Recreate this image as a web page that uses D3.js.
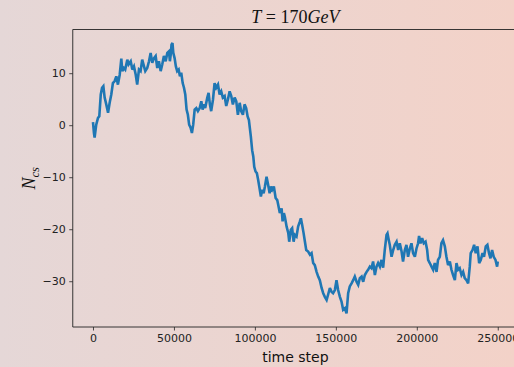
<!DOCTYPE html>
<html>
<head>
<meta charset="utf-8">
<script src="https://cdn.jsdelivr.net/npm/d3@7"></script>
<style>
  html, body { margin: 0; padding: 0; background: #e9d6d3; }
  svg { display: block; }
  .tick text { font-family: "DejaVu Sans", sans-serif; font-size: 11px; fill: #222; }
</style>
</head>
<body>
<svg id="chart" width="514" height="367"></svg>
<script>
// Chern-Simons number N_cs sampled along the simulation (time step, value)
const timeSteps = [
  0, 600, 1000, 2000, 3100, 3900, 4800, 5600, 6400, 7200, 8200, 9300, 10300, 11300, 12300, 13400, 14400, 15400, 16500, 17500,
  18100, 19100, 19900, 21200, 22000, 23300, 24300, 25300, 26400, 27300, 28400, 29400, 30400, 31500, 32300, 33500, 34600, 35600, 36600, 37700,
  38700, 39700, 40700, 41800, 42800, 43800, 44900, 45900, 46900, 47500, 48000, 48500, 49100, 49600, 50400, 51200, 52000, 52900, 53700, 54500,
  55400, 56200, 57000, 57800, 58600, 59400, 60300, 61100, 61900, 62800, 63800, 64800, 65900, 66900, 67700, 68500, 69300, 70600, 71400, 72200,
  73000, 74100, 75100, 76100, 77200, 78200, 79200, 80200, 81300, 82300, 83300, 84400, 85400, 86400, 87500, 88500, 89500, 90600, 91500, 92600,
  93600, 94600, 95500, 96300, 96900, 97500, 98300, 99000, 99600, 100400, 101200, 102000, 102700, 103700, 104500, 105400, 106200, 107200, 108200, 109100,
  109900, 110700, 111700, 112800, 113800, 114400, 115400, 116500, 117100, 117900, 118500, 119600, 120600, 121200, 122200, 123000, 123900, 124700, 125700, 126700,
  127800, 128400, 129200, 130100, 130900, 131700, 132900, 134000, 135000, 136000, 137000, 138100, 139100, 140100, 141200, 142200, 143200, 144300, 145200, 146300,
  147300, 148300, 149400, 150400, 151400, 152500, 153500, 154500, 155600, 156600, 157600, 158600, 159700, 160700, 161700, 162800, 163800, 164800, 165900, 166900,
  167900, 169000, 169900, 171000, 172000, 173000, 174100, 175100, 176100, 177200, 178200, 179200, 180200, 181300, 181900, 182700, 183300, 184400, 185400, 186400,
  187500, 188500, 189500, 190600, 191500, 192600, 193600, 194600, 195700, 196700, 197700, 198800, 199800, 200800, 201400, 202300, 203300, 204300, 205400, 206400,
  207000, 208000, 209100, 210100, 211100, 212200, 213100, 214200, 215200, 216200, 217300, 218300, 219300, 220400, 221400, 222400, 223500, 224500, 225500, 226500,
  227600, 228600, 229600, 230700, 231700, 232700, 233300, 234400, 235400, 236400, 237500, 238500, 239500, 240600, 241500, 242600, 243600, 244600, 245500, 246500,
  247500, 248600, 249600, 250000
];
const ncsValues = [
  0.6, -1.5, -2.4, 0.1, 1.4, 1.7, 5.9, 7.2, 7.5, 5.3, 4.0, 2.4, 4.3, 5.9, 8.1, 8.5, 9.4, 7.8, 9.7, 12.8,
  10.4, 11.0, 10.7, 12.6, 11.7, 12.3, 10.7, 11.3, 9.7, 7.8, 10.7, 10.4, 12.6, 11.3, 10.4, 11.0, 12.3, 13.9, 12.0, 12.9,
  13.3, 11.0, 12.3, 10.4, 11.7, 13.3, 12.3, 13.9, 14.2, 12.3, 13.5, 15.5, 15.8, 13.9, 12.9, 11.3, 10.4, 10.7, 9.4, 10.1,
  8.1, 7.2, 5.9, 3.0, 2.0, 0.1, -0.5, -1.5, 0.1, 3.0, 3.3, 2.7, 3.3, 4.6, 3.0, 4.0, 3.3, 5.3, 6.2, 4.0,
  2.7, 4.9, 8.1, 7.2, 7.8, 5.9, 6.5, 5.3, 5.6, 3.7, 4.9, 6.5, 5.6, 4.0, 5.3, 4.6, 2.0, 4.3, 2.7, 2.0,
  4.0, 3.3, 1.7, 1.0, -0.6, -2.2, -4.8, -6.0, -8.0, -8.9, -9.2, -10.5, -11.8, -13.7, -12.4, -13.1, -11.8, -9.9, -11.5, -13.1,
  -11.8, -12.4, -11.8, -14.0, -14.4, -15.3, -16.9, -16.0, -18.5, -16.9, -17.6, -19.5, -20.7, -22.4, -20.1, -19.8, -22.4, -21.1, -21.4, -19.5,
  -18.5, -17.9, -19.2, -20.8, -22.4, -24.0, -24.3, -24.9, -24.6, -26.5, -26.9, -28.2, -29.1, -29.8, -31.3, -32.3, -33.0, -33.6, -32.6, -31.3,
  -32.0, -32.3, -31.7, -29.8, -31.7, -33.0, -33.9, -35.5, -35.2, -36.2, -32.3, -31.0, -30.4, -29.8, -29.1, -30.1, -30.7, -29.4, -29.1, -30.1,
  -28.8, -28.2, -27.8, -27.2, -27.5, -26.2, -28.8, -27.2, -26.5, -27.2, -25.9, -27.4, -24.0, -21.1, -20.8, -22.1, -23.0, -25.3, -24.0, -23.0,
  -22.4, -24.0, -22.7, -24.3, -26.2, -24.0, -23.0, -25.3, -23.7, -22.7, -24.6, -25.3, -23.7, -22.7, -21.3, -22.7, -21.7, -22.7, -22.4, -24.0,
  -25.9, -26.5, -27.2, -27.8, -26.5, -28.2, -25.9, -25.3, -22.7, -22.1, -23.3, -25.3, -26.9, -26.2, -27.8, -28.8, -29.8, -26.5, -27.8, -27.5,
  -28.8, -28.2, -29.4, -29.8, -30.4, -27.2, -24.6, -24.0, -23.0, -24.6, -23.3, -26.5, -25.9, -24.6, -25.3, -23.3, -23.0, -24.6, -25.6, -24.0,
  -25.3, -25.9, -27.2, -26.2
];
const xTickValues = [0, 50000, 100000, 150000, 200000, 250000];
const yTickValues = [-30, -20, -10, 0, 10];

const W = 514, H = 367;
const plot = { left: 72.75, top: 29.5, right: 518, bottom: 327 };

const svg = d3.select("#chart");

// figure background: soft horizontal gradient
const defs = svg.append("defs");
const grad = defs.append("linearGradient").attr("id", "bg").attr("x1", "0").attr("x2", "1").attr("y1", "0").attr("y2", "0");
grad.append("stop").attr("offset", "0%").attr("stop-color", "#e5d7d7");
grad.append("stop").attr("offset", "100%").attr("stop-color", "#f3d2c8");
svg.append("rect").attr("width", W).attr("height", H).attr("fill", "url(#bg)");

defs.append("clipPath").attr("id", "plotClip")
  .append("rect")
  .attr("x", plot.left).attr("y", plot.top)
  .attr("width", plot.right - plot.left).attr("height", plot.bottom - plot.top);

// axis limits with 5% padding around the data range
const pad = (lo, hi) => { const m = (hi - lo) * 0.05; return [lo - m, hi + m]; };
const xDom = pad(d3.min(timeSteps), d3.max(timeSteps));
const yDom = pad(d3.min(ncsValues), d3.max(ncsValues));

const x = d3.scaleLinear().domain(xDom).range([plot.left, plot.right]);
const y = d3.scaleLinear().domain(yDom).range([plot.bottom, plot.top]);

const points = timeSteps.map((t, i) => [t, ncsValues[i]]);

svg.append("path")
  .datum(points)
  .attr("clip-path", "url(#plotClip)")
  .attr("fill", "none")
  .attr("stroke", "#1f77b4")
  .attr("stroke-width", 2.6)
  .attr("stroke-linejoin", "miter")
  .attr("stroke-miterlimit", 3)
  .attr("d", d3.line().x(d => x(d[0])).y(d => y(d[1])));

const fmtMinus = d => (d < 0 ? "\u2212" + Math.abs(d) : String(d));

// axes
const xAxis = d3.axisBottom(x).tickValues(xTickValues).tickFormat(d => String(d)).tickSizeOuter(0).tickSize(3.5).tickPadding(3.5);
const gx = svg.append("g").attr("transform", `translate(0,${plot.bottom})`).call(xAxis);
gx.select(".domain").remove();
gx.selectAll(".tick line").attr("stroke", "#222").attr("stroke-width", 0.8);

const yAxis = d3.axisLeft(y).tickValues(yTickValues).tickFormat(fmtMinus).tickSizeOuter(0).tickSize(3.5).tickPadding(3.5);
const gy = svg.append("g").attr("transform", `translate(${plot.left},0)`).call(yAxis);
gy.select(".domain").remove();
gy.selectAll(".tick line").attr("stroke", "#222").attr("stroke-width", 0.8);

// spines (right one falls outside the figure)
const spine = (x1, y1, x2, y2) => svg.append("line")
  .attr("x1", x1).attr("y1", y1).attr("x2", x2).attr("y2", y2)
  .attr("stroke", "#222").attr("stroke-width", 0.9);
spine(plot.left, plot.top, plot.left, plot.bottom);
spine(plot.left, plot.bottom, plot.right, plot.bottom);
spine(plot.left, plot.top, plot.right, plot.top);
spine(plot.right, plot.top, plot.right, plot.bottom);

const cx = (plot.left + plot.right) / 2;
const cy = (plot.top + plot.bottom) / 2;

// x label
svg.append("text")
  .attr("x", cx).attr("y", 362)
  .attr("text-anchor", "middle")
  .attr("font-family", "DejaVu Sans, sans-serif")
  .attr("font-size", 14)
  .attr("fill", "#111")
  .text("time step");

// y label: N_cs
const yl = svg.append("text")
  .attr("transform", `translate(35,${cy}) rotate(-90)`)
  .attr("text-anchor", "middle")
  .attr("font-family", "Liberation Serif, serif")
  .attr("font-size", 18)
  .attr("fill", "#111");
yl.append("tspan").attr("font-style", "italic").text("N");
yl.append("tspan").attr("font-style", "italic").attr("font-size", 12.5).attr("dy", 4).text("cs");

// title: T = 170GeV
const tt = svg.append("text")
  .attr("x", cx).attr("y", 23)
  .attr("text-anchor", "middle")
  .attr("font-family", "Liberation Serif, serif")
  .attr("font-size", 18)
  .attr("fill", "#111");
tt.append("tspan").attr("font-style", "italic").text("T");
tt.append("tspan").text(" = 170");
tt.append("tspan").attr("font-style", "italic").text("GeV");
</script>
</body>
</html>
